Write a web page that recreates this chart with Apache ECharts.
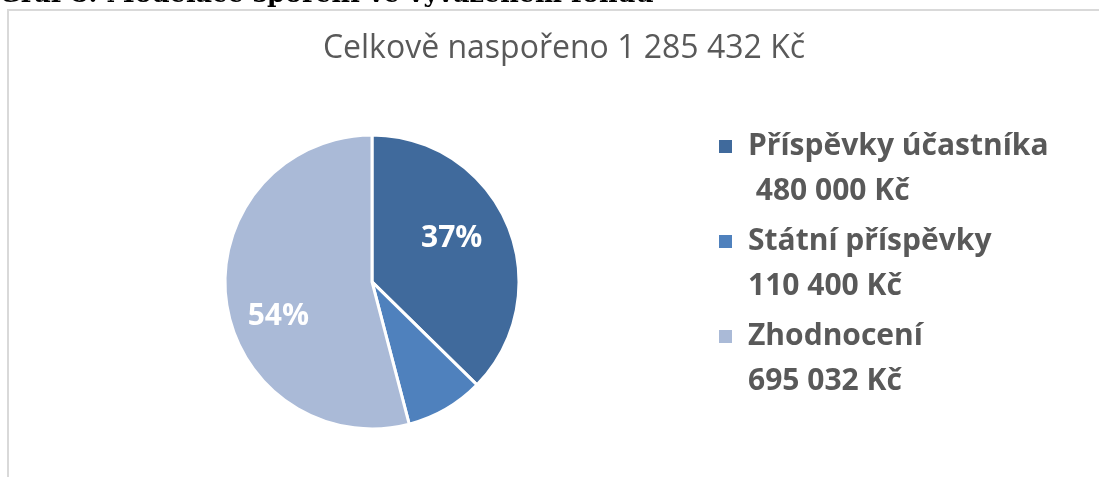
<!DOCTYPE html>
<html>
<head>
<meta charset="utf-8">
<script src="https://cdn.jsdelivr.net/npm/echarts@6/dist/echarts.min.js"></script>
<style>
  html, body { margin: 0; padding: 0; background: #fff; }
  #chart { width: 1099px; height: 477px; }
</style>
</head>
<body>
<div id="chart"></div>
<script>
// data
const names = ["Příspěvky účastníka", "Státní příspěvky", "Zhodnocení"];
const values = [480000, 110400, 695032];
const colors = ["#406A9C", "#4F81BD", "#AABAD7"];
const showPct = [true, false, true];
const valuePrefix = [" ", "", ""];
const heading = "Graf 8: Modelace spoření ve vyváženém fondu";

// small per-label nudges (px) so the percentages sit where Excel put them
const labelNudge = [[-12, -5], [0, 0], [5, 22]];

function fmtKc(v) {
  return String(v).replace(/\B(?=(\d{3})+(?!\d))/g, " ") + " Kč";
}

let total = 0;
for (let i = 0; i < values.length; i++) total += values[i];

const pieData = [];
for (let i = 0; i < names.length; i++) {
  pieData.push({
    name: names[i],
    value: values[i],
    itemStyle: { color: colors[i] },
    label: { show: showPct[i] }
  });
}

const chart = echarts.init(document.getElementById("chart"));
const centerPct = [33.85, 59.1];

const option = {
  animation: false,
  backgroundColor: "#fff",
  title: {
    text: "Celkově naspořeno " + fmtKc(total),
    left: 559,
    top: 28,
    textAlign: "center",
    textStyle: {
      fontFamily: "Open Sans",
      fontWeight: "normal",
      fontSize: 32,
      color: "#595959"
    }
  },
  legend: {
    orient: "vertical",
    left: 717,
    top: 123,
    padding: 0,
    itemGap: 3,
    itemWidth: 15,
    itemHeight: 90,
    icon: "path://M0,0M0,15L15,15L15,30L0,30ZM0,90",
    data: names,
    selectedMode: false,
    formatter: function (name) {
      const i = names.indexOf(name);
      return name + "\n" + valuePrefix[i] + fmtKc(values[i]);
    },
    textStyle: {
      fontFamily: "Open Sans",
      fontWeight: "bold",
      fontSize: 30,
      lineHeight: 45,
      color: "#595959",
      padding: [0, 0, 0, 10]
    }
  },
  graphic: [
    {
      type: "rect",
      silent: true,
      shape: { x: 8, y: 10, width: 1200, height: 600 },
      style: { fill: "none", stroke: "#d9d9d9", lineWidth: 2 }
    },
    {
      type: "text",
      silent: true,
      left: -1,
      top: -18,
      style: {
        text: heading,
        fontFamily: "DejaVu Serif",
        fontWeight: "bold",
        fontSize: 25.5,
        fill: "#000"
      }
    }
  ],
  series: [
    {
      type: "pie",
      radius: 147,
      center: [centerPct[0] + "%", centerPct[1] + "%"],
      startAngle: 90,
      clockwise: true,
      silent: true,
      itemStyle: { borderColor: "#fff", borderWidth: 3 },
      label: {
        position: "inside",
        formatter: function (p) {
          return Math.round(p.percent) + "%";
        },
        fontFamily: "Open Sans",
        fontWeight: "bold",
        fontSize: 30,
        color: "#fff"
      },
      labelLayout: function (params) {
        // push the inside labels further out from the centre
        const cx = chart.getWidth() * centerPct[0] / 100;
        const cy = chart.getHeight() * centerPct[1] / 100;
        const r = params.labelRect;
        const lx = r.x + r.width / 2;
        const ly = r.y + r.height / 2;
        const n = labelNudge[params.dataIndex];
        return { dx: (lx - cx) * 0.3 + n[0], dy: (ly - cy) * 0.3 + n[1] };
      },
      labelLine: { show: false },
      data: pieData
    }
  ]
};

chart.setOption(option);
</script>
</body>
</html>
